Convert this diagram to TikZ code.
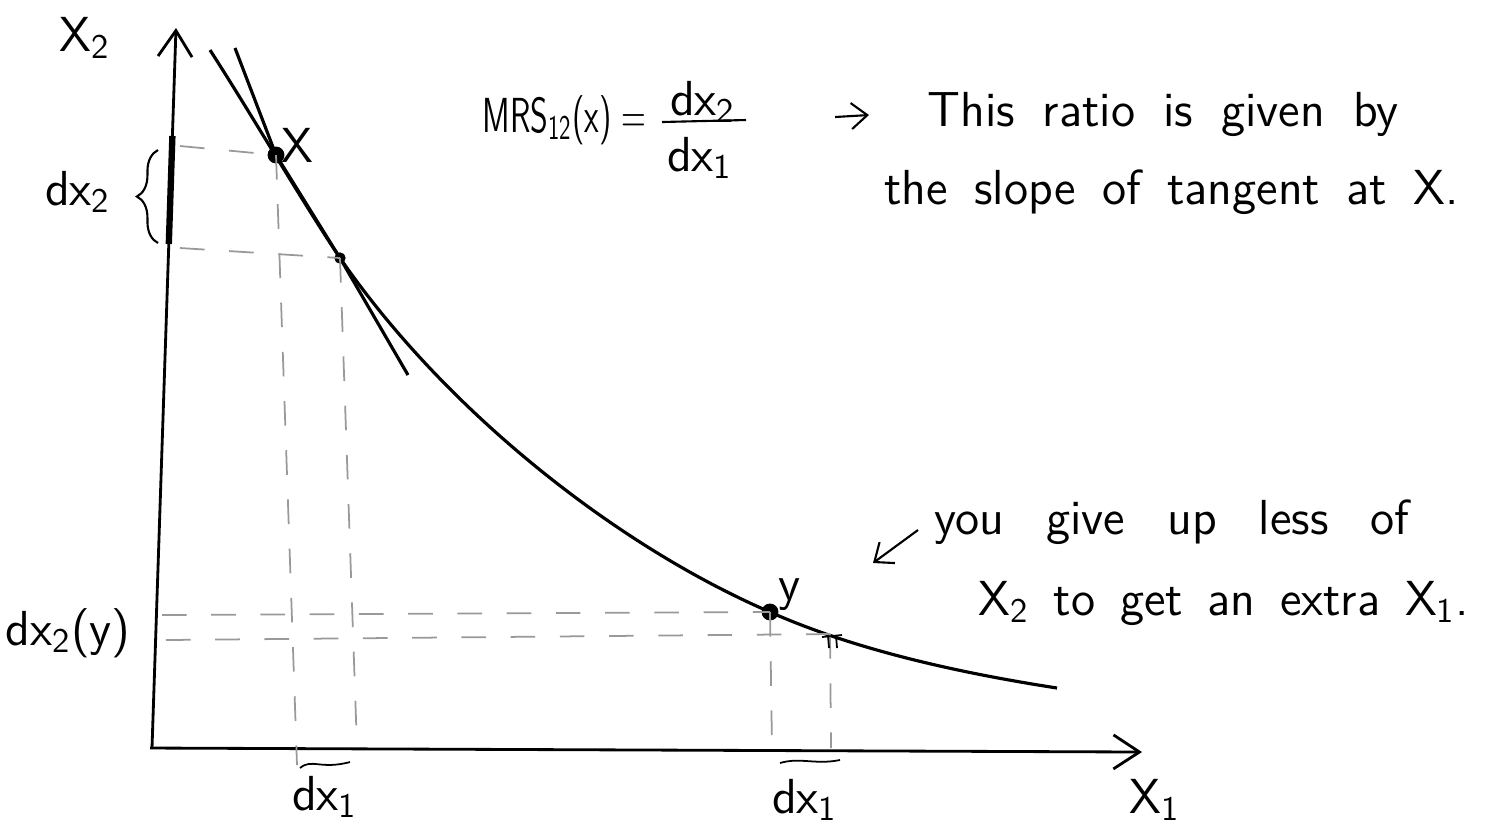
\documentclass[tikz,border=0pt]{standalone}
\usepackage{fontspec}
\usetikzlibrary{arrows.meta,decorations.pathreplacing,calc}
\begin{document}
\begin{tikzpicture}[x=0.01cm,y=-0.01cm,
    font=\sffamily\fontsize{14}{17}\selectfont,
    axe/.style={line width=0.8pt,-{Straight Barb[length=2.6mm,width=3.4mm]}},
    courbe/.style={line width=0.9pt},
    pointille/.style={black!40,line width=0.5pt,dash pattern=on 7pt off 7pt},
    fleche/.style={line width=0.6pt,-{Straight Barb[length=1.6mm,width=2.6mm]}}]
  \useasboundingbox (0,0) rectangle (1504,823);

  % Axes x1 et x2
  \coordinate (O) at (152,748);
  \coordinate (yT) at (176,28);
  \coordinate (xT) at (1142,752);
  \draw[axe] (O) -- (yT);
  \draw[axe] (150,748) -- (xT);

  % Points sur la courbe
  \coordinate (X) at (276,155);
  \coordinate (P) at (340,258);
  \coordinate (Y) at (770,612);
  \coordinate (Q) at (830,634);

  % Courbe d'indifference
  \draw[courbe] (210,50) .. controls (250,112) and (300,198) .. (P)
    .. controls (445,410) and (615,545) .. (Y)
    .. controls (860,652) and (967,674) .. (1057,688);

  % Tangente au point X
  \draw[courbe] (235,48) -- (X) -- (P) -- (408,375);

  % Points X et y
  \filldraw (X) circle (2.2pt);
  \node (lX) at (297,145) {X};
  \filldraw (P) circle (1.4pt);
  \filldraw (Y) circle (2.2pt);
  \node (lY) at (790,595) {y};

  % Projections vers les axes
  \draw[pointille] (180,146) -- (X);
  \draw[pointille] (180,248) -- (P);
  \draw[pointille] (X) -- (297,765);
  \draw[pointille] (P) -- (357,748);
  \draw[pointille] (162,615) -- (Y);
  \draw[pointille] (166,640) -- (Q);
  \draw[pointille] (Y) -- (772,748);
  \draw[pointille] (Q) -- (831,748);

  % Petites marques sous Q
  \draw[line width=0.5pt] (822,637) -- (842,635);
  \draw[line width=0.5pt] (828,636) -- (829,648) (836,636) -- (837,648);

  % Segment dx2 sur l'axe vertical
  \draw[line width=1.8pt] ($(O)!0.70!(yT)$) -- ($(O)!0.85!(yT)$);

  % Accolade dx2
  \draw[line width=0.6pt, decorate, decoration={brace, amplitude=6pt}]
    (158,243) -- (158,150);
  \node (ldx2) at (78,192) {dx\textsubscript{2}};

  % Tildes dx1
  \draw[line width=0.5pt] (300,768) .. controls (312,758) and (320,770) .. (350,762);
  \draw[line width=0.5pt] (780,763) .. controls (800,757) and (815,765) .. (840,760);
  \node (ldx1a) at (325,797) {dx\textsubscript{1}};
  \node (ldx1b) at (805,800) {dx\textsubscript{1}};
  \node (ldx2y) at (68,633) {dx\textsubscript{2}(y)};

  % Noms des axes
  \node (lx2) at (85,38) {X\textsubscript{2}};
  \node (lx1) at (1155,800) {X\textsubscript{1}};

  % Formule du TMS
  \node[anchor=base west] (mrs) at (470,132)
    {\scalebox{0.66}[1]{MRS\textsubscript{12}(x) =}};
  \node (num) at (703,102) {dx\textsubscript{2}};
  \node (den) at (700,158) {dx\textsubscript{1}};
  \draw[line width=0.6pt] (662,122) -- (746,120);

  % Commentaire en haut a droite
  \node[anchor=base west] (txt1) at (915,126)
    {\spaceskip=8pt This ratio is given by};
  \node[anchor=base west] (txt2) at (872,204)
    {\spaceskip=7.5pt the slope of tangent at X.};
  \coordinate (f1) at (835,117);
  \draw[fleche] (f1) -- ++(34,-2);

  % Commentaire en bas a droite
  \node[anchor=base west] (txt3) at (922,534)
    {\spaceskip=12pt you give up less of};
  \node[anchor=base west] (txt4) at (966,615)
    {\spaceskip=7pt X\textsubscript{2} to get an extra X\textsubscript{1}.};
  \coordinate (f2) at (918,530);
  \draw[fleche] (f2) -- ++(-45,33);
\end{tikzpicture}
\end{document}
